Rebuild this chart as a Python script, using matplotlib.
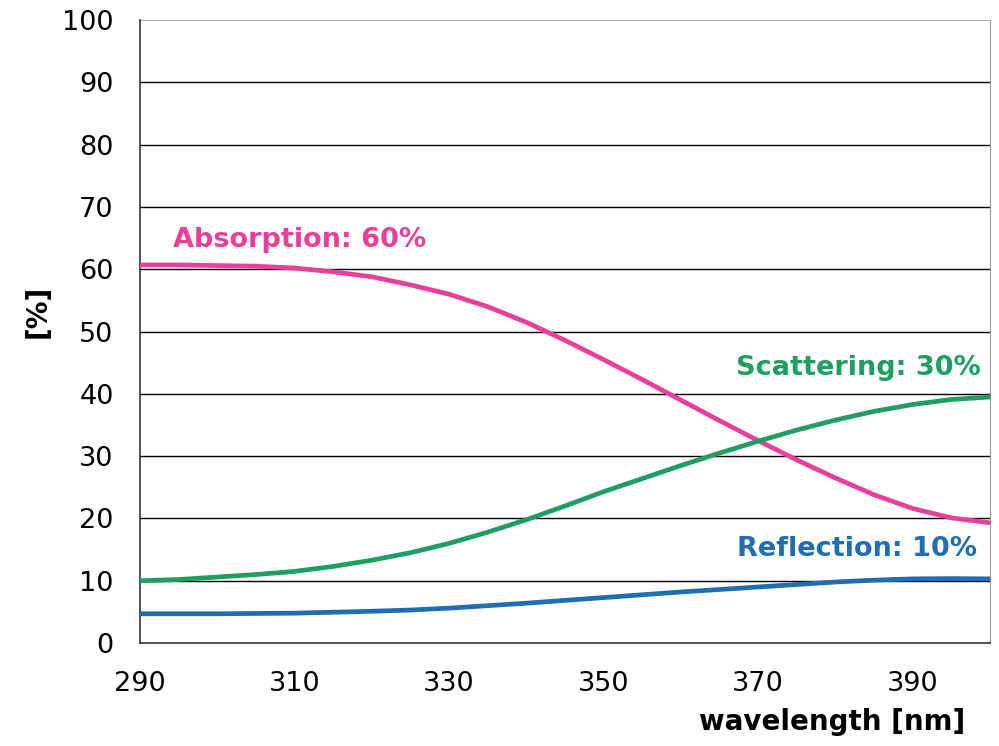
from matplotlib import pyplot

pyplot.rcParams['font.family'] = ['DejaVu Sans']

wavelength = [290, 295, 300, 305, 310, 315, 320, 325, 330, 335, 340, 345,
	350, 355, 360, 365, 370, 375, 380, 385, 390, 395, 400]
absorption = [60.7, 60.7, 60.6, 60.5, 60.2, 59.6, 58.8, 57.5, 56.0, 54.0, 51.5, 48.6,
	45.5, 42.3, 39.0, 35.7, 32.5, 29.4, 26.5, 23.8, 21.6, 20.1, 19.3]
scattering = [10.0, 10.2, 10.6, 11.0, 11.5, 12.3, 13.3, 14.5, 16.0, 17.8, 19.8, 22.0,
	24.3, 26.4, 28.5, 30.5, 32.4, 34.2, 35.8, 37.2, 38.3, 39.1, 39.5]
reflection = [4.7, 4.7, 4.7, 4.75, 4.8, 4.95, 5.1, 5.3, 5.6, 6.0, 6.4, 6.85,
	7.3, 7.75, 8.2, 8.6, 9.0, 9.4, 9.8, 10.1, 10.3, 10.35, 10.3]

labels = ['Absorption: 60%', 'Scattering: 30%', 'Reflection: 10%']
colors = ['#E8409A', '#1E9E60', '#1F6DB2']

xticks = [290, 310, 330, 350, 370, 390]
yticks = list(range(0, 101, 10))

figure = pyplot.figure(figsize=(9.99, 7.46), dpi=100)
axis = figure.add_axes([0.1401, 0.138, 0.991 - 0.1401, 0.973 - 0.138])

for y in yticks[1:-1]:
	axis.axhline(y, color='black', linewidth=1.0, zorder=1)
axis.axhline(100, color='#999999', linewidth=1.2, zorder=1)

for values, color in zip([absorption, scattering, reflection], colors):
	axis.plot(wavelength, values, color=color, linewidth=3.4, zorder=3,
		solid_capstyle='butt', clip_on=False)

# curve labels
axis.text(294.3, 64.7, labels[0], color=colors[0], fontsize=19.5, fontweight='bold', va='center', ha='left')
axis.text(398.8, 44.2, labels[1], color=colors[1], fontsize=19.5, fontweight='bold', va='center', ha='right')
axis.text(398.3, 15.1, labels[2], color=colors[2], fontsize=19.5, fontweight='bold', va='center', ha='right')

axis.set_xlim(290, 400)
axis.set_ylim(0, 100)
axis.set_xticks(xticks)
axis.set_yticks(yticks)
axis.tick_params(axis='both', length=0, labelsize=19.5)
axis.tick_params(axis='x', pad=20)
axis.tick_params(axis='y', pad=19)

axis.spines['top'].set_visible(False)
axis.spines['right'].set_color('#999999')
axis.spines['left'].set_color('#333333')
axis.spines['bottom'].set_color('#333333')
axis.spines['left'].set_linewidth(1.2)
axis.spines['bottom'].set_linewidth(1.2)

figure.text(0.038, 0.582, '[%]', fontsize=20, fontweight='bold', rotation=90, ha='center', va='center')
figure.text(0.966, 0.032, 'wavelength [nm]', fontsize=20, fontweight='bold', ha='right', va='center')

pyplot.savefig('out.png', dpi=100)
